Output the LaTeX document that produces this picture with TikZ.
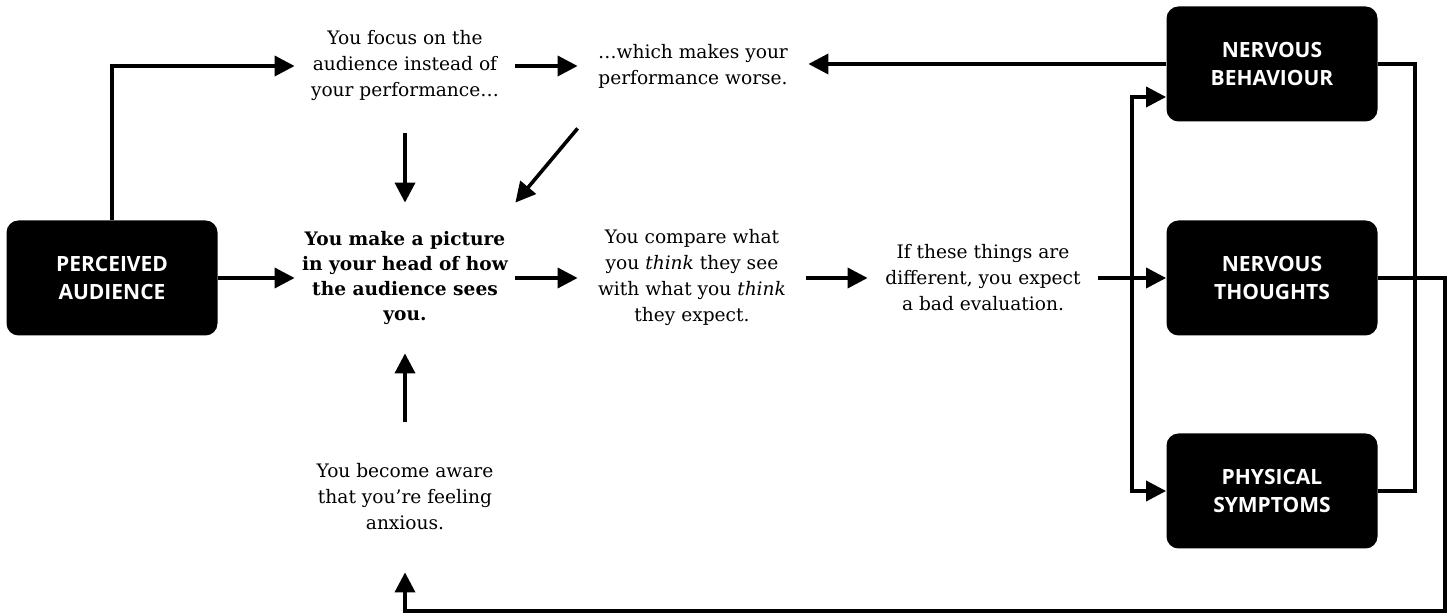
\documentclass[tikz,border=0pt]{standalone}
\usepackage{fontspec}
\setmainfont{DejaVu Serif}
\newfontfamily\boxfont{Open Sans}
\usetikzlibrary{arrows.meta,positioning}

\begin{document}
\begin{tikzpicture}[x=0.5pt,y=-0.5pt,font=\fontsize{9.3}{13}\selectfont,
  dark/.style={fill=black,rounded corners=6pt,minimum width=105.5pt,minimum height=57.5pt,
    align=center,text=white,font=\boxfont\bfseries\fontsize{10.5}{14}\selectfont},
  txt/.style={align=center,inner sep=0pt},
  arr/.style={line width=1.8pt,-{Triangle[length=10pt,width=10pt]}},
  biarr/.style={line width=1.8pt,{Triangle[length=10pt,width=10pt]}-{Triangle[length=10pt,width=10pt]}},
  link/.style={line width=1.8pt}]
\useasboundingbox (0,0) rectangle (1453,613);
% boxes
\node[dark] (pa) at (112,278) {PERCEIVED\\AUDIENCE};
\node[dark] (nb) at (1272,64) {NERVOUS\\BEHAVIOUR};
\node[dark] (nt) at (1272,278) {NERVOUS\\THOUGHTS};
\node[dark] (ps) at (1272,491) {PHYSICAL\\SYMPTOMS};
% texts
\node[txt,minimum width=110pt,minimum height=67pt] (focus) at (405,66) {You focus on the\\audience instead of\\your performance…};
\node[txt,minimum width=115pt,minimum height=62pt] (worse) at (693,66) {…which makes your\\performance worse.};
\node[txt,minimum width=110pt,minimum height=75pt,font=\bfseries\fontsize{9.3}{12.6}\selectfont] (pic) at (405,278) {You make a picture\\in your head of how\\the audience sees\\you.};
\node[txt,minimum width=114pt] (compare) at (692,278) {You compare what\\you \textit{think} they see\\with what you \textit{think}\\they expect.};
\node[txt,minimum width=115pt] (differ) at (983,278) {If these things are\\different, you expect\\a bad evaluation.};
\node[txt,minimum width=100pt,minimum height=75pt] (aware) at (405,497) {You become aware\\that you’re feeling\\anxious.};
\coordinate (bus) at (1132,97);
\coordinate (loop) at (1445,611);
% connectors
\draw[arr] (pa.north) |- (focus.west);
\draw[arr] (pa) -- (pic);
\draw[arr] (focus) -- (worse);
\draw[arr] (focus) -- (pic);
\draw[arr] (worse.south west) -- (pic.north east);
\draw[arr] (pic) -- (compare);
\draw[arr] (compare) -- (differ);
\draw[arr] (aware) -- (pic);
\draw[arr] (differ) -- (nt);
\draw[biarr] (bus -| nb.west) -- (bus) |- (ps.west);
\draw[arr] (nb.west) -- (nb.west -| worse.east);
\draw[link] (nb.east) -- ++(37,0) |- (ps.east);
\draw[arr] (nt.east) -| (loop) -| (aware.south);
\end{tikzpicture}
\end{document}
